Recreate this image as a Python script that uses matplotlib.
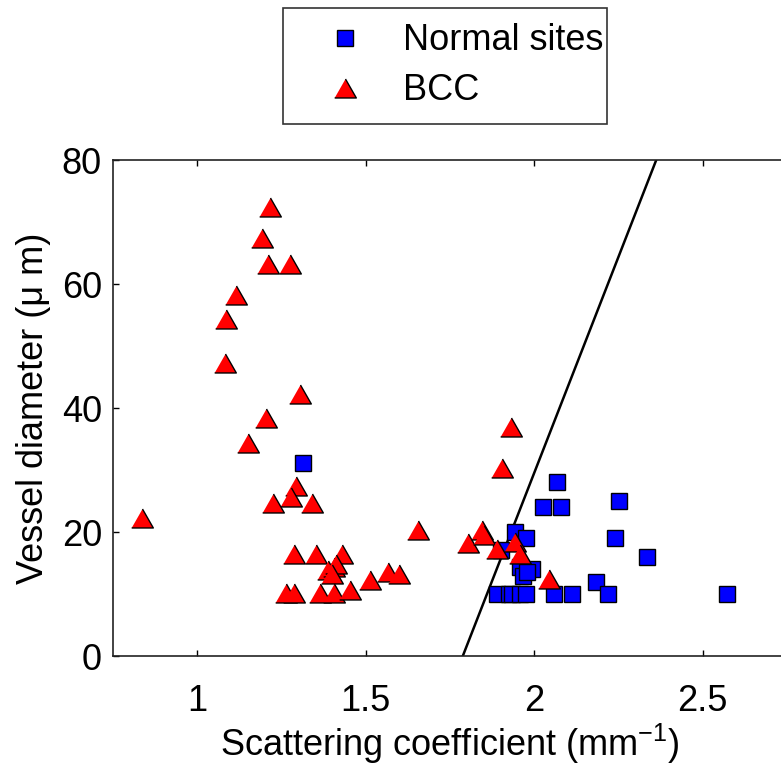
import matplotlib
matplotlib.use("Agg")
import matplotlib.pyplot as plt

plt.rcParams['font.family'] = ['Liberation Sans', 'DejaVu Sans']
plt.rcParams['mathtext.default'] = 'regular'

normal_x = [1.313, 1.944, 1.976, 1.900, 1.958, 1.993, 1.966, 1.978, 1.889, 1.924,
            1.934, 1.958, 1.976, 2.067, 2.026, 2.080, 2.251, 2.241, 2.334, 2.184,
            2.218, 2.572, 2.060, 2.113]
normal_y = [31.1, 20.0, 19.1, 17.1, 14.4, 14.0, 12.9, 13.6, 10.0, 10.0,
            10.0, 10.0, 10.0, 28.0, 24.0, 24.0, 25.0, 19.0, 15.9, 12.0,
            10.0, 10.0, 10.0, 10.0]

bcc_x = [0.836, 1.215, 1.192, 1.211, 1.275, 1.116, 1.086, 1.081, 1.304, 1.205,
         1.150, 1.294, 1.279, 1.224, 1.341, 1.287, 1.351, 1.430, 1.388, 1.405,
         1.413, 1.400, 1.264, 1.287, 1.363, 1.405, 1.454, 1.513, 1.566, 1.600,
         1.655, 1.803, 1.846, 1.850, 1.889, 1.944, 1.958, 2.045, 1.904, 1.932]
bcc_y = [22.3, 72.5, 67.4, 63.3, 63.3, 58.2, 54.3, 47.3, 42.2, 38.4,
         34.3, 27.4, 25.7, 24.6, 24.6, 16.5, 16.5, 16.5, 13.9, 14.3,
         14.8, 13.2, 10.2, 10.2, 10.2, 10.2, 10.6, 12.3, 13.6, 13.2,
         20.3, 18.2, 20.3, 19.5, 17.2, 18.4, 16.5, 12.4, 30.3, 37.0]

line_x = [1.788, 2.362]
line_y = [0, 80]

xticks = [1, 1.5, 2, 2.5]
xtick_labels = ['1', '1.5', '2', '2.5']
yticks = [0, 20, 40, 60, 80]

W, H = 781, 783
fig = plt.figure(figsize=(W / 100, H / 100), dpi=100)
left, right = 113, 113 + 674
top, bottom = 160, 656
ax = fig.add_axes([left / W, 1 - bottom / H, (right - left) / W, (bottom - top) / H])

tri = [(-1, -0.875), (1, -0.875), (0, 0.875)]

ax.plot(line_x, line_y, color='black', lw=1.8, zorder=1)
ax.plot(normal_x, normal_y, ls='none', marker='s', ms=11, mfc='#0000ff',
        mec='black', mew=1.0, label='Normal sites', zorder=2)
ax.plot(bcc_x, bcc_y, ls='none', marker=tri, ms=15.6, mfc='#ff0000',
        mec='black', mew=1.0, label='BCC', zorder=3)

ax.set_xlim(0.75, 2.75)
ax.set_ylim(0, 80)
ax.set_xticks(xticks)
ax.set_xticklabels(xtick_labels)
ax.set_yticks(yticks)
ax.tick_params(direction='in', length=4, width=1, top=True, right=True,
               labelsize=26)
ax.tick_params(axis='x', pad=20)
ax.tick_params(axis='y', pad=8)
for s in ax.spines.values():
    s.set_linewidth(1.2)
    s.set_color('#222222')

ax.set_xlabel('Scattering coefficient (mm$^{-1}$)', fontsize=26, labelpad=2)
ax.set_ylabel('Vessel diameter (μ m)', fontsize=26, labelpad=8)

leg = fig.legend(loc='lower left',
                 bbox_to_anchor=(283 / W, 1 - 124 / H, 324 / W, 116 / H),
                 mode='expand', borderaxespad=0, fontsize=26, frameon=True,
                 fancybox=False, edgecolor='#333333', framealpha=1,
                 handlelength=2.6, handletextpad=0.3, borderpad=0.43,
                 labelspacing=0.42, numpoints=1)
leg.get_frame().set_linewidth(1.2)

fig.savefig('out.png', dpi=100)
